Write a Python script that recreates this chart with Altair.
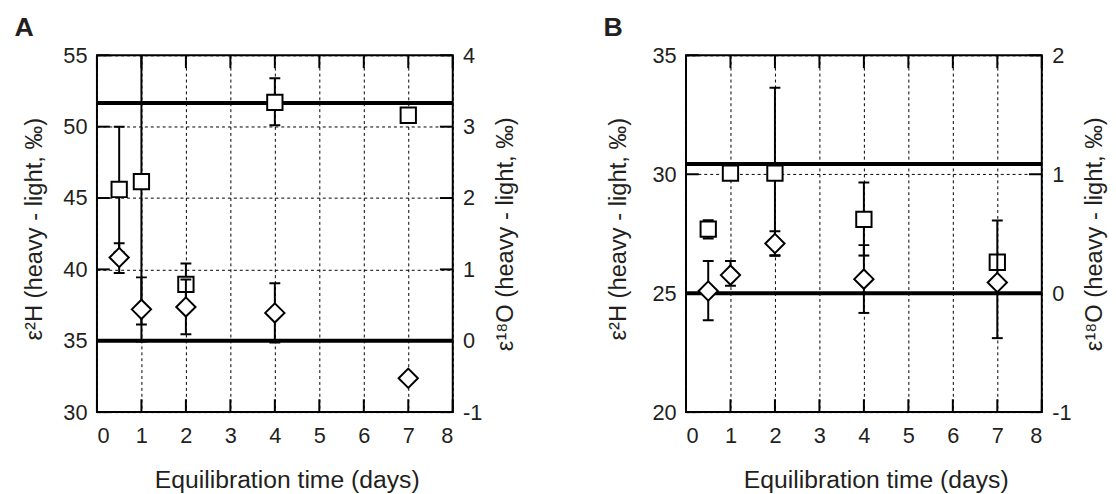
import altair as alt
import pandas as pd

FONT = "Liberation Sans"
INK = "#231f20"

days = [0.5, 1, 2, 4, 7]
x_ticks = [0, 1, 2, 3, 4, 5, 6, 7, 8]

# Panel A: epsilon 2H (squares, left axis)
a_h2 = [45.6, 46.15, 38.95, 51.7, 50.8]
a_h2_lo = [41.2, 36.14, 37.5, 50.1, 50.8]
a_h2_hi = [50.0, 56.2, 40.41, 53.4, 50.8]
# Panel A: epsilon 18O (diamonds, right axis)
a_o18 = [1.166, 0.44, 0.474, 0.39, -0.526]
a_o18_lo = [0.95, -0.01, 0.09, -0.026, -0.526]
a_o18_hi = [1.366, 0.888, 0.858, 0.806, -0.526]
a_h2_ref = 51.66
a_o18_ref = 0.0
a_h2_ticks = [30, 35, 40, 45, 50, 55]
a_o18_ticks = [-1, 0, 1, 2, 3, 4]

# Panel B
b_h2 = [27.69, 30.05, 30.05, 28.1, 26.3]
b_h2_lo = [27.3, 30.05, 26.57, 26.58, 26.3]
b_h2_hi = [28.07, 30.05, 33.64, 29.65, 26.3]
b_o18 = [0.018, 0.152, 0.418, 0.118, 0.09]
b_o18_lo = [-0.228, 0.062, 0.318, -0.166, -0.378]
b_o18_hi = [0.27, 0.27, 0.52, 0.404, 0.612]
b_h2_ref = 30.43
b_o18_ref = 0.0
b_h2_ticks = [20, 25, 30, 35]
b_o18_ticks = [-1, 0, 1, 2]

W, H = 360, 361
TICK = 13
LFS = 22


def panel(letter, dx, ltp, h2, h2_lo, h2_hi, o18, o18_lo, o18_hi, h2_ref, o18_ref,
          h2_ticks, o18_ticks):
    sq = pd.DataFrame({"day": days, "v": h2, "lo": h2_lo, "hi": h2_hi})
    di = pd.DataFrame({"day": days, "v": o18, "lo": o18_lo, "hi": o18_hi})
    xt = pd.DataFrame({"day": x_ticks})
    lt = pd.DataFrame({"v": h2_ticks})
    rt = pd.DataFrame({"v": o18_ticks})
    lref = pd.DataFrame({"v": [h2_ref]})
    rref = pd.DataFrame({"v": [o18_ref]})

    xaxis = alt.Axis(values=x_ticks, title="Equilibration time (days)", grid=True,
                     gridDash=[3, 3], gridColor="#000", gridWidth=1, ticks=False,
                     domain=False, labelPadding=14, titlePadding=21, titleFontSize=25,
                     titleX=W / 2 + 12, labelExpr="'' + datum.value")
    xs = alt.Scale(domain=[0, 8], nice=False)

    def X(f="day"):
        return alt.X(f + ":Q", scale=xs, axis=xaxis)

    lscale = alt.Scale(domain=[h2_ticks[0], h2_ticks[-1]], nice=False, zero=False)
    laxis = alt.Axis(values=h2_ticks, title="ε²H (heavy - light, ‰)", grid=True,
                     gridDash=[3, 3], gridColor="#000", gridWidth=1, ticks=False,
                     domain=False, labelPadding=10, titlePadding=ltp, titleFontSize=24,
                     titleY=H / 2 - 5, labelExpr="'' + datum.value")

    def LY(f):
        return alt.Y(f + ":Q", scale=lscale, axis=laxis)

    rscale = alt.Scale(domain=[o18_ticks[0], o18_ticks[-1]], nice=False, zero=False)
    raxis = alt.Axis(values=o18_ticks, title="ε¹⁸O (heavy - light, ‰)", orient="right",
                     grid=False, ticks=False, domain=False, labelPadding=10,
                     titlePadding=12, titleAngle=270, titleBaseline="top",
                     titleFontSize=24, labelExpr="'' + datum.value")

    def RY(f):
        return alt.Y(f + ":Q", scale=rscale, axis=raxis)

    cap = dict(orient="horizontal", color="#000", size=11, thickness=2, clip=True, opacity=1)

    left = alt.layer(
        alt.Chart(xt).mark_rule(color="#000", strokeWidth=2).encode(
            x=X(), y=alt.value(0), y2=alt.value(TICK)),
        alt.Chart(xt).mark_rule(color="#000", strokeWidth=2).encode(
            x=X(), y=alt.value(H - TICK), y2=alt.value(H)),
        alt.Chart(lt).mark_rule(color="#000", strokeWidth=2).encode(
            y=LY("v"), x=alt.value(0), x2=alt.value(TICK)),
        alt.Chart(lref).mark_rule(color="#000", strokeWidth=4).encode(y=LY("v")),
        alt.Chart(sq).mark_rule(color="#000", strokeWidth=2, clip=True).encode(
            x=X(), y=LY("lo"), y2="hi:Q"),
        alt.Chart(sq).mark_tick(**cap).encode(x=X(), y=LY("lo")),
        alt.Chart(sq).mark_tick(**cap).encode(x=X(), y=LY("hi")),
        alt.Chart(sq).mark_square(size=240, filled=True, fill="white", stroke="#000",
                                  strokeWidth=2, opacity=1).encode(x=X(), y=LY("v")),
    )
    right = alt.layer(
        alt.Chart(rt).mark_rule(color="#000", strokeWidth=2).encode(
            y=RY("v"), x=alt.value(W - TICK), x2=alt.value(W)),
        alt.Chart(rref).mark_rule(color="#000", strokeWidth=4).encode(y=RY("v")),
        alt.Chart(di).mark_rule(color="#000", strokeWidth=2, clip=True).encode(
            x=X(), y=RY("lo"), y2="hi:Q"),
        alt.Chart(di).mark_tick(**cap).encode(x=X(), y=RY("lo")),
        alt.Chart(di).mark_tick(**cap).encode(x=X(), y=RY("hi")),
        alt.Chart(di).mark_point(shape="diamond", size=380, filled=True, fill="white",
                                 stroke="#000", strokeWidth=2, opacity=1).encode(
            x=X(), y=RY("v")),
    )
    return alt.layer(left, right).resolve_scale(y="independent").properties(
        width=W, height=H,
        title=alt.TitleParams(letter, anchor="start", fontSize=27, fontWeight="bold",
                              font=FONT, color=INK, dx=dx, offset=3),
    )


pa = panel("A", -8, 17, a_h2, a_h2_lo, a_h2_hi, a_o18, a_o18_lo, a_o18_hi,
           a_h2_ref, a_o18_ref, a_h2_ticks, a_o18_ticks)
pb = panel("B", -3, 22, b_h2, b_h2_lo, b_h2_hi, b_o18, b_o18_lo, b_o18_hi,
           b_h2_ref, b_o18_ref, b_h2_ticks, b_o18_ticks)

chart = alt.hconcat(pa, pb, spacing=84).properties(
    padding={"left": 5, "top": 2, "right": 0, "bottom": 0}
).configure_view(stroke="#000", strokeWidth=2).configure_axis(
    labelFont=FONT, titleFont=FONT, labelFontSize=LFS,
    labelColor=INK, titleColor=INK, titleFontWeight="normal",
).configure_title(frame="bounds")

chart.save("out.html", embed_options={"renderer": "svg", "actions": False})
